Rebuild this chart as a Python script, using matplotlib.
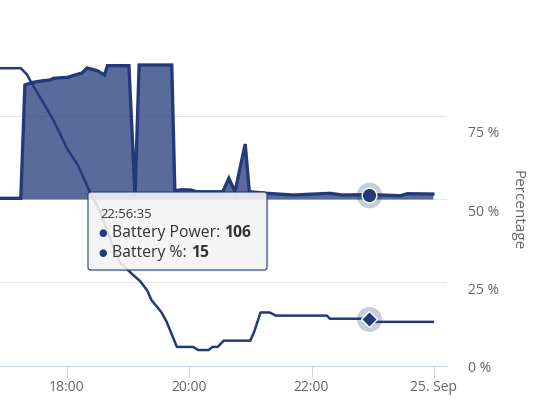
import matplotlib.pyplot as plt
from matplotlib.patches import FancyBboxPatch

plt.rcParams['font.family'] = ['Open Sans', 'DejaVu Sans']

# ==========================================
# DATOS
# ==========================================
# Battery Power (W), eje izquierdo oculto
power_times = ["16:48", "17:15", "17:19", "17:27", "17:37", "17:44", "17:47", "18:01",
               "18:08", "18:15", "18:20", "18:30", "18:37", "18:40", "19:01", "19:07",
               "19:11", "19:43", "19:46", "19:53", "20:02", "20:07", "20:33", "20:39",
               "20:45", "20:55", "20:59", "21:16", "21:42", "22:18", "22:30", "22:56:35",
               "23:27", "23:34", "23:59"]
power_values = [17, 17, 2736, 2800, 2840, 2856, 2897, 2921,
                2976, 3024, 3144, 3079, 2976, 3200, 3200, 79,
                3216, 3216, 199, 223, 216, 175, 175, 497,
                175, 1320, 175, 137, 96, 137, 96, 106,
                79, 127, 120]

# Battery % (eje derecho)
pct_times = ["16:48", "17:15", "17:21", "17:26", "17:37", "17:46", "18:01", "18:11",
             "18:22", "18:33", "18:42", "18:52", "19:05", "19:12", "19:19", "19:23",
             "19:33", "19:38", "19:48", "20:04", "20:09", "20:19", "20:23", "20:28",
             "20:34", "21:00", "21:04", "21:10", "21:19", "21:25", "22:15", "22:18",
             "22:56:35", "22:59", "23:59"]
pct_values = [95, 95, 93, 90, 84, 79, 69, 64,
              56, 49, 41, 33, 29, 27, 24, 21,
              17, 14, 6, 6, 5, 5, 6, 6,
              8, 8, 11, 17, 17, 16, 16, 15,
              15, 14, 14]

x_ticks = [18, 20, 22, 24]
x_labels = ["18:00", "20:00", "22:00", "25. Sep"]
pct_ticks = [0, 25, 50, 75]
pct_labels = ["0 %", "25 %", "50 %", "75 %"]
power_grid = [-2000, 0, 2000]

hover_time = "22:56:35"
hover_power = 106
hover_pct = 15

NAVY = '#233a7a'
GRIS_TXT = '#666666'


def a_horas(s):
    partes = [int(p) for p in s.split(":")]
    while len(partes) < 3:
        partes.append(0)
    return partes[0] + partes[1] / 60 + partes[2] / 3600


t_power = [a_horas(s) for s in power_times]
t_pct = [a_horas(s) for s in pct_times]
t_hover = a_horas(hover_time)

# ==========================================
# FIGURA
# ==========================================
fig = plt.figure(figsize=(5.35, 4.14), dpi=100)
ax = fig.add_axes([0, 47.3 / 414, 447 / 535, 366.7 / 414])
ax2 = ax.twinx()

ax.set_xlim(16.91, 24.214)
ax.set_ylim(-4000, 4800)
ax.set_yticks(power_grid)
ax.yaxis.grid(True, color='#e6e6e6', linewidth=0.75)
ax.tick_params(axis='y', left=False, right=False, labelleft=False, labelright=False)
for lado in ['top', 'left', 'right']:
    ax.spines[lado].set_visible(False)
ax.spines['bottom'].set_color('#ccd6eb')
ax.spines['bottom'].set_linewidth(0.75)
ax.set_xticks(x_ticks)
ax.set_xticklabels(x_labels)
ax.tick_params(axis='x', direction='out', length=8.4, width=0.75, color='#ccd6eb',
               labelcolor=GRIS_TXT, labelsize=10, pad=1.5)
ax.set_axisbelow(True)

# area de potencia
ax.fill_between(t_power, power_values, 0, color=NAVY, alpha=0.75, linewidth=0)
ax.plot(t_power, power_values, color=NAVY, linewidth=2.4, solid_joinstyle='miter')
ax.plot(t_hover, hover_power, 'o', ms=18.5, color=NAVY, alpha=0.25, mew=0)
ax.plot(t_hover, hover_power, 'o', ms=10.5, color=NAVY, mec='white', mew=1)

# porcentaje
ax2.set_ylim(0, 117.1)
ax2.set_yticks(pct_ticks)
ax2.set_yticklabels(pct_labels)
ax2.tick_params(axis='y', left=False, right=False, length=0, pad=15, labelsize=10,
                labelcolor=GRIS_TXT)
for lado in ['top', 'left', 'right', 'bottom']:
    ax2.spines[lado].set_visible(False)
ax2.plot(t_pct, pct_values, color=NAVY, linewidth=1.8)
ax2.plot(t_hover, hover_pct, 'o', ms=18, color=NAVY, alpha=0.25, mew=0)
ax2.plot(t_hover, hover_pct, 'D', ms=8.5, color=NAVY, mec='white', mew=1)

fig.text(517 / 535, 1 - 210 / 414, "Percentage", rotation=270, ha='center', va='center',
         color=GRIS_TXT, fontsize=11)

# --- tooltip ---
x0, x1 = 88 / 535, 267 / 535
y0, y1 = 1 - 271 / 414, 1 - 193 / 414
sombra = FancyBboxPatch((x0 + 1.5 / 535, y0 - 1.5 / 414), x1 - x0, y1 - y0,
                        boxstyle="round,pad=0,rounding_size=0.006",
                        transform=fig.transFigure, facecolor='black', alpha=0.08,
                        edgecolor='none', zorder=20, clip_on=False)
caja = FancyBboxPatch((x0, y0), x1 - x0, y1 - y0,
                      boxstyle="round,pad=0,rounding_size=0.006",
                      transform=fig.transFigure, facecolor='#f7f7f7', alpha=0.88,
                      edgecolor=NAVY, linewidth=0.9, zorder=21, clip_on=False)
ax2.add_patch(sombra)
ax2.add_patch(caja)

tx = 100 / 535
fig.text(tx, 1 - 214.5 / 414, hover_time, fontsize=9.4, color='#333333',
         va='center', zorder=30)

filas = [("Battery Power:", str(hover_power), 233), ("Battery %:", str(hover_pct), 252.7)]
for etiqueta, valor, ypx in filas:
    yf = 1 - ypx / 414
    fig.text(103 / 535, yf, "\u25CF", fontsize=7, color=NAVY, va='center', ha='center',
             family=['DejaVu Sans'], zorder=30)
    t1 = fig.text(112 / 535, yf, etiqueta, fontsize=11.3, color='#333333',
                  va='center', zorder=30)
    ax2.annotate(valor, xy=(1, 0), xycoords=t1, xytext=(3, 0), textcoords='offset points',
                 va='bottom', ha='left', fontsize=11.3, fontweight='bold',
                 color='#333333', zorder=31, annotation_clip=False)

fig.savefig("out.png", dpi=100)
